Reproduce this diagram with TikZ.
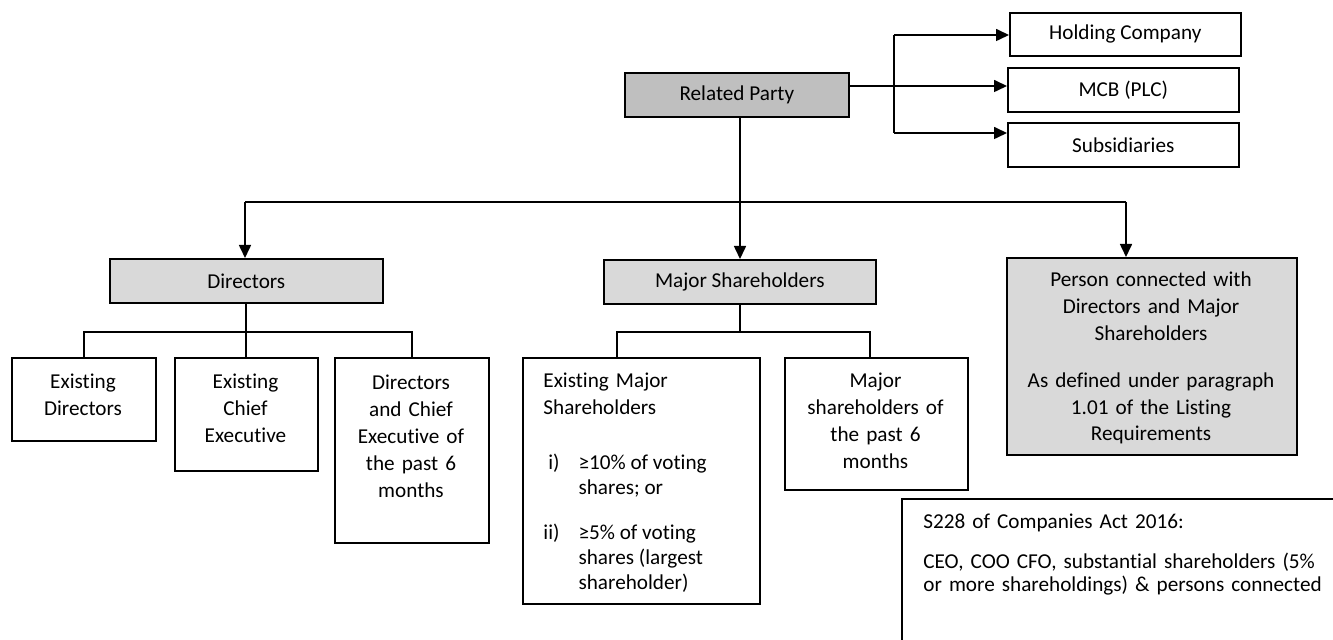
\documentclass[tikz,border=0pt]{standalone}
\usepackage{fontspec}
\setmainfont{Carlito}[Ligatures={NoCommon,NoContextual}]
\usetikzlibrary{arrows.meta}
\definecolor{grayA}{HTML}{BFBFBF}
\definecolor{grayB}{HTML}{D9D9D9}
\frenchspacing
\begin{document}
\begin{tikzpicture}[x=0.5pt,y=-0.5pt,
  box/.style={draw=black, line width=0.8pt, inner sep=0pt, anchor=north west, font=\fontsize{10.6}{13.4}\selectfont\frenchspacing},
  darkbox/.style={box, fill=grayA},
  lightbox/.style={box, fill=grayB},
  txt/.style={inner sep=0pt, font=\fontsize{10.6}{13.4}\selectfont\frenchspacing, anchor=base},
  arr/.style={line width=0.8pt, -{Triangle[length=6.5pt,width=6pt]}},
  ln/.style={line width=0.8pt}]
\useasboundingbox (0,0) rectangle (1333,640);

% boxes
\node[darkbox, minimum width=112pt, minimum height=22pt] (rp) at (624,72) {Related Party};
\node[box, minimum width=115.5pt, minimum height=21.5pt] (hc) at (1009,12) {Holding Company};
\node[box, minimum width=115.5pt, minimum height=22pt] (mcb) at (1007,67) {MCB (PLC)};
\node[box, minimum width=115.5pt, minimum height=22pt] (sub) at (1007,122) {Subsidiaries};
\node[lightbox, minimum width=136.5pt, minimum height=22pt] (dir) at (109,258) {Directors};
\node[lightbox, minimum width=136pt, minimum height=22pt] (ms) at (603,259) {Major Shareholders};
\node[lightbox, minimum width=145pt, minimum height=98.5pt] (pc) at (1006,257) {};
\node[box, minimum width=72pt, minimum height=41.5pt] (ed) at (11,357) {};
\node[box, minimum width=71.5pt, minimum height=56.5pt] (ec) at (174,357) {};
\node[box, minimum width=77pt, minimum height=92.5pt] (dp) at (334,357) {};
\node[box, minimum width=118.5pt, minimum height=123pt] (em) at (522,357) {};
\node[box, minimum width=91.5pt, minimum height=66pt] (mp) at (784,357) {};
\node[box, minimum width=250pt, minimum height=100pt] (s228) at (901,498) {};

% texts
\node[txt, text width=70pt, align=center] (edt) at (83,389) {Existing\\Directors};
\node[txt, text width=70pt, align=center] (ect) at (245.5,389) {Existing\\Chief\\Executive};
\node[txt, text width=75pt, align=center] (dpt) at (411,390) {Directors\\and Chief\\Executive of\\the past 6\\months};
\node[txt, text width=110pt, align=left, anchor=base west] (emh) at (543,388) {Existing Major\\Shareholders};
\node[txt, anchor=base west] (eml) at (543,470) {\fontsize{10.6}{12.5}\selectfont\begin{tabular}[t]{@{}r@{\hspace{9.5pt}}l@{}}i) & ≥10\% of voting\\ & shares; or\\[10pt] ii) & ≥5\% of voting\\ & shares (largest\\ & shareholder)\end{tabular}};
\node[txt, text width=90pt, align=center] (mpt) at (875.5,388) {Major\\shareholders of\\the past 6\\months};
\node[txt, text width=143pt, align=center] (pct) at (1151,287) {Person connected with\\Directors and Major\\Shareholders\\[10pt]As defined under paragraph\\1.01 of the Listing\\Requirements};
\node[txt, text width=220pt, align=left, anchor=base west, font=\fontsize{10.6}{11.35}\selectfont\frenchspacing] (st) at (923,529) {S228 of Companies Act 2016:\\[8.65pt]CEO, COO CFO, substantial shareholders (5\%\\or more shareholdings) \& persons connected};

% top-right bracket
\coordinate (j1) at (894,35);
\coordinate (j2) at (894,86);
\coordinate (j3) at (894,133);
\draw[arr] (rp.east |- j2) -- (mcb.west |- j2);
\draw[ln] (j1) -- (j3);
\draw[arr] (j1) -- (hc.west |- j1);
\draw[arr] (j3) -- (sub.west |- j3);

% main trunk
\coordinate (tr) at (740,202);
\coordinate (hl) at (245,202);
\coordinate (hr) at (1126,202);
\draw[arr] (rp.south -| tr) -- (ms.north -| tr);
\draw[ln] (hl) -- (hr);
\draw[arr] (hl) -- (hl |- dir.north);
\draw[arr] (hr) -- (hr |- pc.north);

% directors subtree
\coordinate (db) at (246,332);
\draw[ln] (db |- dir.south) -- (db |- ec.north);
\draw[ln] (ed.north) -- (ed.north |- db) -- (dp.north |- db) -- (dp.north);

% major shareholders subtree
\coordinate (m1) at (617,332);
\coordinate (m2) at (870,332);
\draw[ln] (ms.south -| tr) -- (tr |- m1);
\draw[ln] (m1 |- em.north) -- (m1) -- (m2) -- (m2 |- mp.north);
\end{tikzpicture}
\end{document}
